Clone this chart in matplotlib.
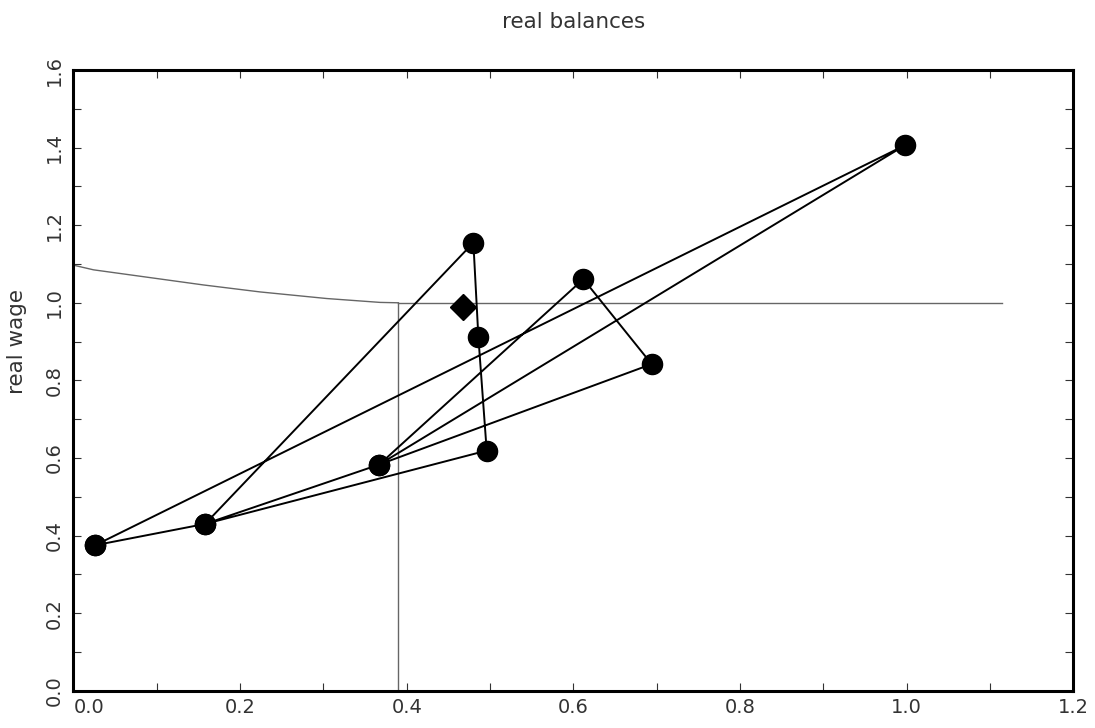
import numpy as np
import matplotlib
matplotlib.use("Agg")
import matplotlib.pyplot as plt
from matplotlib.ticker import MultipleLocator

# trajectory of observations (real balances, real wage)
path_x = [0.026, 0.158, 0.480, 0.486, 0.496, 0.158, 0.367, 0.612, 0.694, 0.367, 0.998, 0.026]
path_y = [0.375, 0.430, 1.155, 0.912, 0.619, 0.430, 0.583, 1.061, 0.842, 0.583, 1.406, 0.375]

# steady state marker
ss_x = [0.468]
ss_y = [0.989]

# thin reference curve and lines
curve_x = [0.0, 0.024, 0.156, 0.224, 0.304, 0.368, 0.39]
curve_y = [1.097, 1.085, 1.046, 1.028, 1.011, 1.001, 1.0]
hline_x = [0.39, 1.115]
hline_y = [1.0, 1.0]
vline_x = [0.39, 0.39]
vline_y = [0.0, 1.0]

xticks = [0.0, 0.2, 0.4, 0.6, 0.8, 1.0, 1.2]
yticks = [0.0, 0.2, 0.4, 0.6, 0.8, 1.0, 1.2, 1.4, 1.6]

plt.rcParams['font.family'] = ['DejaVu Sans']
fig = plt.figure(figsize=(10.95, 7.28), dpi=100)
ax = fig.add_axes([0.0671, 0.0512, 0.9130, 0.8526])

grey = '#666666'
ax.plot(curve_x, curve_y, color=grey, lw=1.0)
ax.plot(hline_x, hline_y, color=grey, lw=1.0)
ax.plot(vline_x, vline_y, color=grey, lw=1.0)

ax.plot(path_x, path_y, color='black', lw=1.4, marker='o', ms=14.5, zorder=3)
ax.plot(ss_x, ss_y, color='black', marker='D', ls='none', ms=13, zorder=3)

ax.set_xlim(0, 1.2)
ax.set_ylim(0, 1.6)
ax.set_xticks(xticks)
ax.set_yticks(yticks)
ax.set_xticklabels([f"{v:.1f}" for v in xticks])
ax.set_yticklabels([f"{v:.1f}" for v in yticks], rotation=90, va='center')
ax.xaxis.set_minor_locator(MultipleLocator(0.1))
ax.yaxis.set_minor_locator(MultipleLocator(0.1))
ax.tick_params(which='both', direction='in', length=6, width=0.8, color='#333333',
               top=True, right=True, labelsize=14, labelcolor='#333333')
ax.tick_params(axis='x', pad=5)
ax.tick_params(axis='y', pad=7)
ax.get_xticklabels()[0].set_horizontalalignment('left')

for s in ax.spines.values():
    s.set_linewidth(2.2)

ax.set_title('real balances', fontsize=15.5, color='#333333', pad=30)
ax.set_ylabel('real wage', fontsize=15.5, color='#333333')
ax.yaxis.set_label_coords(-0.046, 0.562)

fig.savefig('out.png', dpi=100)
